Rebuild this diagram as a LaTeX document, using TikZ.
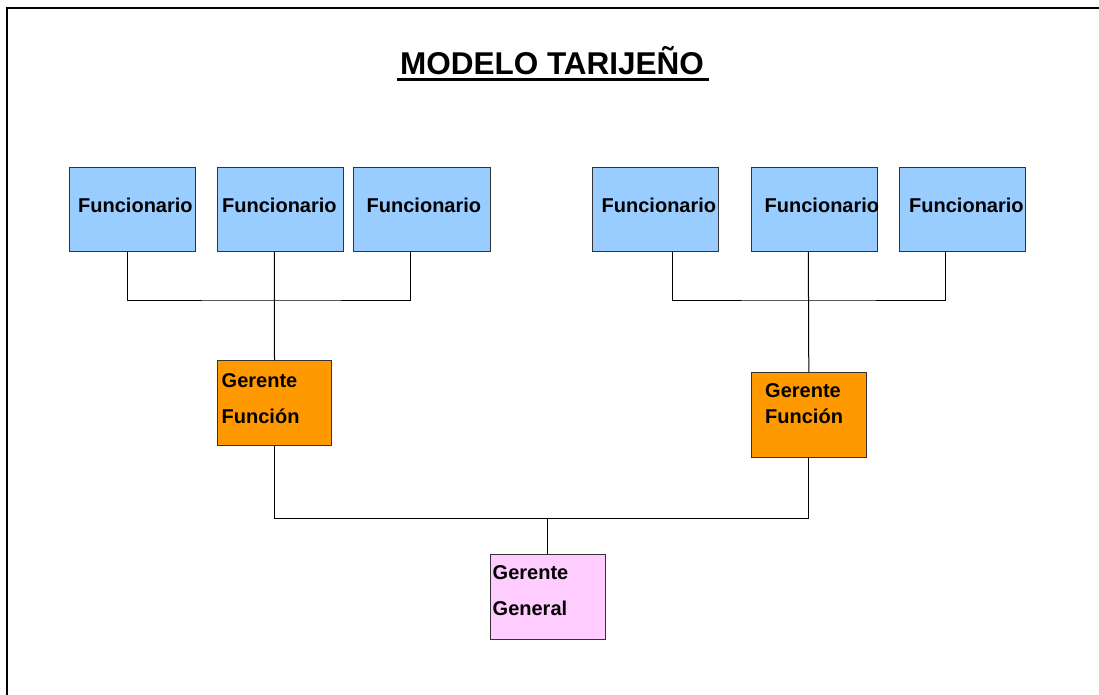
\documentclass[tikz,border=0pt]{standalone}
\usepackage{fontspec}
\setmainfont{Liberation Sans}
\definecolor{fblue}{HTML}{99CCFF}
\definecolor{forange}{HTML}{FF9900}
\definecolor{fpink}{HTML}{FFCCFF}
\definecolor{fedge}{HTML}{333333}
\begin{document}
\begin{tikzpicture}[x=1pt,y=-1pt,
  box/.style={draw=fedge, line width=1pt, inner sep=0pt, rectangle},
  fbox/.style={box, fill=fblue, minimum width=126pt, minimum height=84.4pt},
  gbox/.style={box, fill=forange, minimum width=114.4pt, minimum height=85.3pt},
  pbox/.style={box, fill=fpink, minimum width=115pt, minimum height=85pt},
  lbl/.style={anchor=base west, inner sep=0pt, font=\bfseries\fontsize{20}{24}\selectfont},
  conn/.style={draw=black, line width=1pt}]
\useasboundingbox (0,0) rectangle (1099,694);
\fill[white] (0,0) rectangle (1099,694);
\draw[line width=2pt] (6.5,7.5) rectangle (1130,720);

\node[anchor=base, inner sep=0pt, font=\bfseries\fontsize{31.5}{36}\selectfont] (title) at (552,74.5) {MODELO TARIJEÑO};
\fill[black] (397.3,78) rectangle (709.3,81);

% top row boxes
\node[fbox] (f1) at (132,209.5) {};
\node[fbox] (f2) at (280.3,209.5) {};
\node[fbox, minimum width=137pt] (f3) at (422.2,209.5) {};
\node[fbox] (f4) at (655.3,209.5) {};
\node[fbox] (f5) at (814.5,209.5) {};
\node[fbox] (f6) at (962.5,209.5) {};

\node[lbl] (t1) at (78,212) {Funcionario};
\node[lbl] (t2) at (222,212) {Funcionario};
\node[lbl] (t3) at (366.5,212) {Funcionario};
\node[lbl] (t4) at (601.5,212) {Funcionario};
\node[lbl] (t5) at (764.5,212) {Funcionario};
\node[lbl] (t6) at (909,212) {Funcionario};

% managers
\node[gbox] (g1) at (274.5,403.3) {};
\node[gbox] (g2) at (808.8,415.3) {};
\node[pbox] (gg) at (547.5,596.5) {};

\node[lbl] (g1a) at (221.5,387) {Gerente};
\node[lbl] (g1b) at (221.5,423) {Función};
\node[lbl] (g2a) at (765,397) {Gerente};
\node[lbl] (g2b) at (765,423) {Función};
\node[lbl] (gga) at (492.5,579) {Gerente};
\node[lbl] (ggb) at (492.5,615.5) {General};

% connector points
\coordinate (f1c) at ([xshift=-4.3]f1.south);
\coordinate (f2c) at ([xshift=-6]f2.south);
\coordinate (f3c) at ([xshift=-11.5]f3.south);
\coordinate (f4c) at ([xshift=17]f4.south);
\coordinate (f5c) at ([xshift=-6.2]f5.south);
\coordinate (f6c) at ([xshift=-17.5]f6.south);
\coordinate (jl) at (274.3,300);
\coordinate (jr) at (808.3,300);
\coordinate (jb) at (547.5,518);

\draw[conn] (f1c) |- (jl) -| (f3c);
\draw[conn] (f2c) -- (g1.north);
\draw[conn] (f4c) |- (jr) -| (f6c);
\draw[conn] (f5c) -- (g2.north);
\draw[conn] (g1.south) |- (jb) -| (g2.south);
\draw[conn] (jb) -- (gg.north);
\end{tikzpicture}
\end{document}
